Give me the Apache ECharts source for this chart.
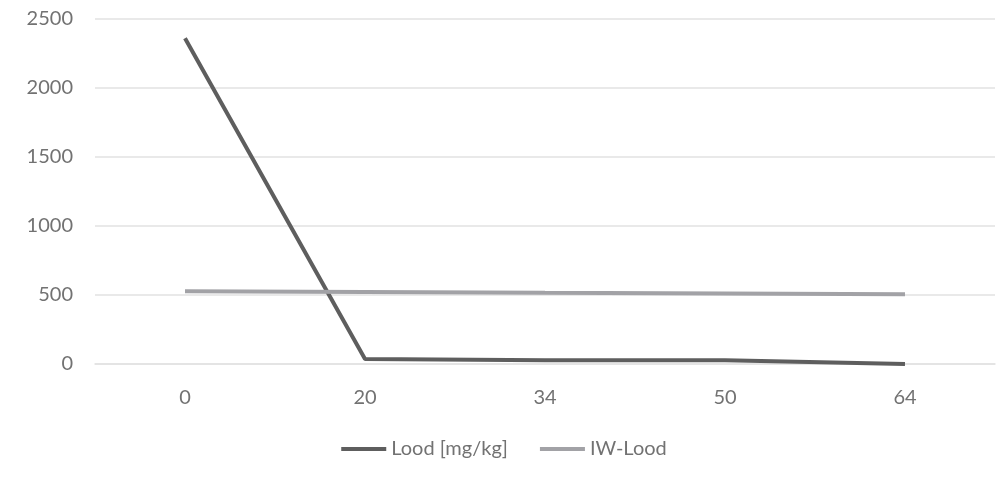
<!DOCTYPE html>
<html>
<head>
<meta charset="utf-8">
<script src="https://cdn.jsdelivr.net/npm/echarts@6/dist/echarts.min.js"></script>
<style>
  html, body { margin: 0; padding: 0; background: #ffffff; }
  #chart { width: 1008px; height: 489px; }
</style>
</head>
<body>
<div id="chart"></div>
<script>
// Sampling days and measured lead concentration
const categories = ['0', '20', '34', '50', '64'];
const lood = [2360, 36, 28, 28, 0];
const iwLood = [527, 522, 516, 511, 506];
const yTicks = [0, 500, 1000, 1500, 2000, 2500];

const textColor = '#727272';
const font = 'Lato, "Open Sans", sans-serif';

const chart = echarts.init(document.getElementById('chart'));
chart.setOption({
  backgroundColor: '#ffffff',
  animation: false,
  grid: { left: 95, right: 13, top: 19, bottom: 125 },
  legend: {
    bottom: 25,
    left: 'center',
    itemWidth: 45,
    itemHeight: 4,
    itemGap: 32,
    icon: 'rect',
    textStyle: { color: textColor, fontSize: 20, fontFamily: font },
    data: ['Lood [mg/kg]', 'IW-Lood']
  },
  xAxis: {
    type: 'category',
    data: categories,
    boundaryGap: true,
    axisLine: { lineStyle: { color: '#e2e2e2', width: 1.5 } },
    axisTick: { show: false },
    axisLabel: { color: textColor, fontSize: 20, fontFamily: font, margin: 24 }
  },
  yAxis: {
    type: 'value',
    min: yTicks[0],
    max: yTicks[yTicks.length - 1],
    interval: 500,
    axisLine: { show: false },
    axisTick: { show: false },
    splitLine: { lineStyle: { color: '#e2e2e2', width: 1.5 } },
    axisLabel: {
      color: textColor, fontSize: 20, fontFamily: font, margin: 22,
      formatter: (v) => String(v)
    }
  },
  series: [
    {
      name: 'Lood [mg/kg]',
      type: 'line',
      data: lood,
      symbol: 'none',
      clip: false,
      lineStyle: { color: '#5e5e5e', width: 4 },
      itemStyle: { color: '#5e5e5e' }
    },
    {
      name: 'IW-Lood',
      type: 'line',
      data: iwLood,
      symbol: 'none',
      lineStyle: { color: '#a2a2a6', width: 4 },
      itemStyle: { color: '#a2a2a6' }
    }
  ]
});
</script>
</body>
</html>
